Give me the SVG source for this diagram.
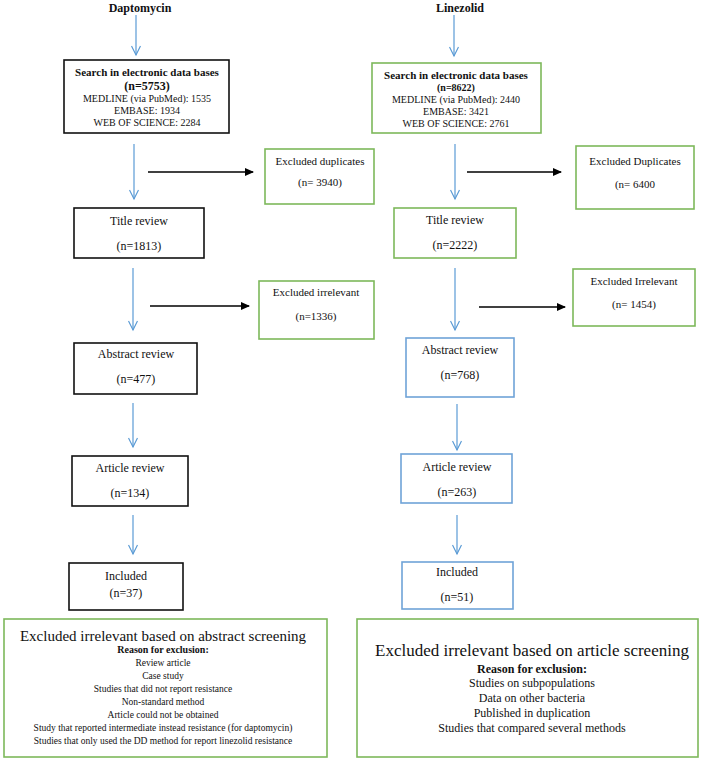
<svg xmlns="http://www.w3.org/2000/svg" width="709" height="762" viewBox="0 0 709 762">
<defs>
<marker id="open" markerWidth="12" markerHeight="10" refX="10" refY="5" orient="auto" markerUnits="userSpaceOnUse" viewBox="0 0 12 10">
<path d="M1,0.5 L10,5 L1,9.5" fill="none" stroke="#5B9BD5" stroke-width="1.2"/>
</marker>
<marker id="solid" markerWidth="9" markerHeight="8" refX="8" refY="4" orient="auto" markerUnits="userSpaceOnUse">
<path d="M0,0 L9,4 L0,8 Z" fill="#000"/>
</marker>
</defs>
<style>
text{font-family:"Liberation Serif","Times New Roman",serif;fill:#111;text-anchor:middle}
.t{font-size:12px}
.s{font-size:11px}
.x{font-size:10px}
.l{font-size:9.5px}
.b{font-weight:bold}
.bk{fill:#fff;stroke:#111;stroke-width:1.6}
.gr{fill:#fff;stroke:#7DB85B;stroke-width:1.6}
.bl{fill:#fff;stroke:#6FA3D8;stroke-width:1.6}
.ba{stroke:#5B9BD5;stroke-width:1.2;fill:none;marker-end:url(#open)}
.ka{stroke:#000;stroke-width:1.6;fill:none;marker-end:url(#solid)}
</style>
<rect width="709" height="762" fill="#fff"/>
<g id="connectors">
<line class="ba" x1="136" y1="15" x2="136" y2="55"/>
<line class="ba" x1="134" y1="144" x2="134" y2="199"/>
<line class="ka" x1="148" y1="172" x2="253" y2="172"/>
<line class="ba" x1="133" y1="268" x2="133" y2="330"/>
<line class="ka" x1="150" y1="306" x2="249" y2="306"/>
<line class="ba" x1="133" y1="403" x2="133" y2="447"/>
<line class="ba" x1="133" y1="515" x2="133" y2="554"/>
<line class="ba" x1="454" y1="15" x2="454" y2="56"/>
<line class="ba" x1="455" y1="144" x2="455" y2="199"/>
<line class="ka" x1="467" y1="172" x2="561" y2="172"/>
<line class="ba" x1="455" y1="268" x2="455" y2="330"/>
<line class="ka" x1="479" y1="307" x2="565" y2="307"/>
<line class="ba" x1="457" y1="404" x2="457" y2="450"/>
<line class="ba" x1="457" y1="515" x2="457" y2="554"/>
</g>
<g id="title-daptomycin"><text class="t b" x="140" y="12">Daptomycin</text></g>
<g id="title-linezolid"><text class="t b" x="460" y="12">Linezolid</text></g>
<g id="d-search">
<rect class="bk" x="64" y="60" width="165" height="73"/>
<text class="s b" x="147" y="76">Search in electronic data bases</text>
<text class="t b" x="147" y="90">(n=5753)</text>
<text class="x" x="147" y="102">MEDLINE (via PubMed): 1535</text>
<text class="x" x="147" y="114">EMBASE: 1934</text>
<text class="x" x="147" y="126">WEB OF SCIENCE: 2284</text>
</g>
<g id="d-dup">
<rect class="gr" x="265" y="149" width="109" height="55"/>
<text class="s" x="320" y="165">Excluded duplicates</text>
<text class="s" x="320" y="186">(n= 3940)</text>
</g>
<g id="d-title">
<rect class="bk" x="74" y="208" width="130" height="50"/>
<text class="t" x="139" y="225">Title review</text>
<text class="t" x="139" y="250">(n=1813)</text>
</g>
<g id="d-irr">
<rect class="gr" x="259" y="281" width="115" height="58"/>
<text class="s" x="316" y="296">Excluded irrelevant</text>
<text class="s" x="316" y="320">(n=1336)</text>
</g>
<g id="d-abstract">
<rect class="bk" x="74" y="343" width="123" height="51"/>
<text class="t" x="136" y="358">Abstract review</text>
<text class="t" x="136" y="383">(n=477)</text>
</g>
<g id="d-article">
<rect class="bk" x="72" y="456" width="116" height="50"/>
<text class="t" x="130" y="472">Article review</text>
<text class="t" x="130" y="497">(n=134)</text>
</g>
<g id="d-included">
<rect class="bk" x="69" y="563" width="114" height="47"/>
<text class="t" x="126" y="580">Included</text>
<text class="t" x="126" y="597">(n=37)</text>
</g>
<g id="d-excl-abstract">
<rect class="gr" x="4" y="619" width="323" height="138"/>
<text x="163" y="641" style="font-size:15px">Excluded irrelevant based on abstract screening</text>
<text class="x b" x="163" y="653">Reason for exclusion:</text>
<text class="l" x="163" y="666">Review article</text>
<text class="l" x="163" y="679">Case study</text>
<text class="l" x="163" y="692">Studies that did not report resistance</text>
<text class="l" x="163" y="705">Non-standard method</text>
<text class="l" x="163" y="718">Article could not be obtained</text>
<text class="l" x="163" y="731">Study that reported intermediate instead resistance (for daptomycin)</text>
<text class="l" x="163" y="744">Studies that only used the DD method for report linezolid resistance</text>
</g>
<g id="l-search">
<rect class="gr" x="372" y="63" width="169" height="70"/>
<text class="s b" x="456" y="79">Search in electronic data bases</text>
<text class="x b" x="456" y="91">(n=8622)</text>
<text class="x" x="456" y="103">MEDLINE (via PubMed): 2440</text>
<text class="x" x="456" y="115">EMBASE: 3421</text>
<text class="x" x="456" y="127">WEB OF SCIENCE: 2761</text>
</g>
<g id="l-dup">
<rect class="gr" x="576" y="146" width="118" height="63"/>
<text class="s" x="635" y="165">Excluded Duplicates</text>
<text class="s" x="635" y="188">(n= 6400</text>
</g>
<g id="l-title">
<rect class="gr" x="394" y="208" width="122" height="50"/>
<text class="t" x="455" y="224">Title review</text>
<text class="t" x="455" y="249">(n=2222)</text>
</g>
<g id="l-irr">
<rect class="gr" x="573" y="269" width="122" height="57"/>
<text class="s" x="634" y="285">Excluded Irrelevant</text>
<text class="s" x="634" y="308">(n= 1454)</text>
</g>
<g id="l-abstract">
<rect class="bl" x="406" y="338" width="108" height="59"/>
<text class="t" x="460" y="354">Abstract review</text>
<text class="t" x="460" y="379">(n=768)</text>
</g>
<g id="l-article">
<rect class="bl" x="401" y="454" width="111" height="49"/>
<text class="t" x="457" y="471">Article review</text>
<text class="t" x="457" y="496">(n=263)</text>
</g>
<g id="l-included">
<rect class="bl" x="402" y="562" width="111" height="47"/>
<text class="t" x="457" y="576">Included</text>
<text class="t" x="457" y="601">(n=51)</text>
</g>
<g id="l-excl-article">
<rect class="gr" x="357" y="619" width="341" height="138"/>
<text x="532" y="656" style="font-size:17px">Excluded irrelevant based on article screening</text>
<text class="t b" x="532" y="673">Reason for exclusion:</text>
<text class="t" x="532" y="687">Studies on subpopulations</text>
<text class="t" x="532" y="702">Data on other bacteria</text>
<text class="t" x="532" y="717">Published in duplication</text>
<text class="t" x="532" y="732">Studies that compared several methods</text>
</g>
</svg>
